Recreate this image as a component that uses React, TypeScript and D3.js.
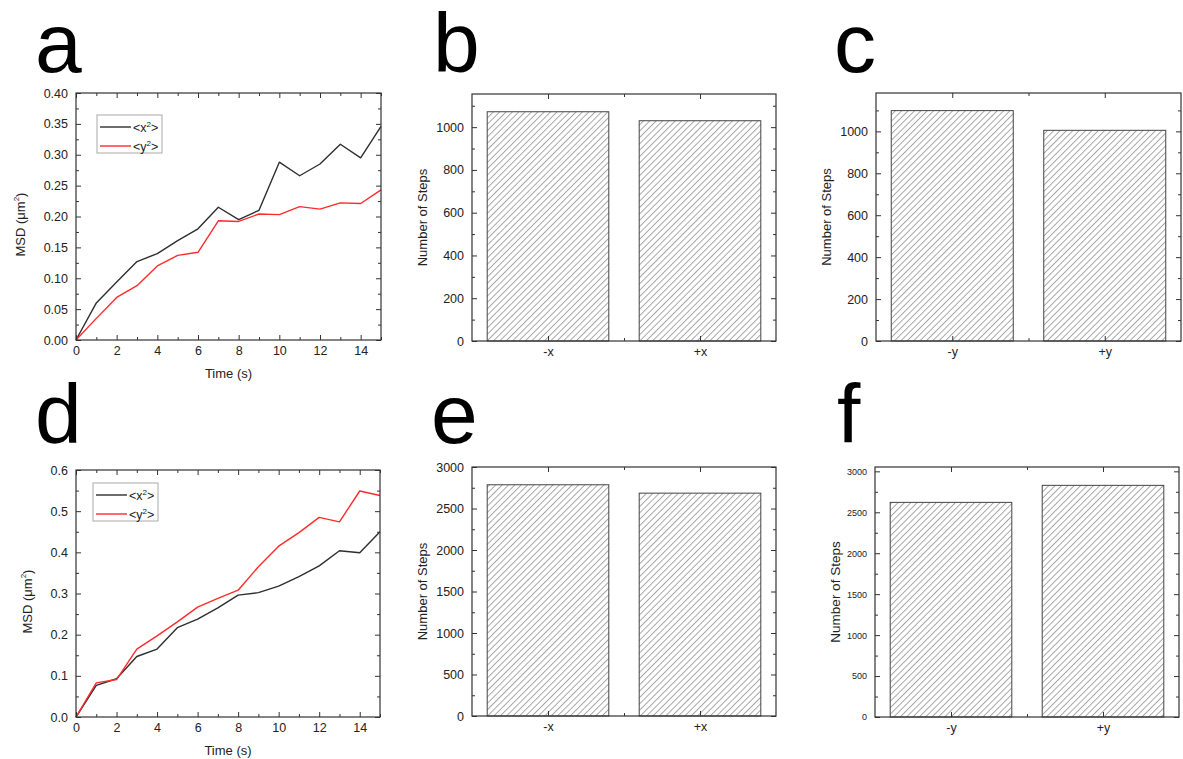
import React, { useEffect, useRef } from 'react';
import * as d3 from 'd3';

const FONT = '"Liberation Sans", Arial, Helvetica, sans-serif';

// time axis for the MSD plots (s)
const times = [0, 1, 2, 3, 4, 5, 6, 7, 8, 9, 10, 11, 12, 13, 14, 15];

// panel a
const msdXa = [0, 0.060, 0.094, 0.127, 0.140, 0.161, 0.180, 0.215, 0.195, 0.210, 0.288, 0.266, 0.285, 0.317, 0.295, 0.346];
const msdYa = [0, 0.035, 0.069, 0.088, 0.120, 0.137, 0.142, 0.193, 0.192, 0.204, 0.203, 0.216, 0.212, 0.222, 0.221, 0.243];

// panel d
const msdXd = [0, 0.077, 0.093, 0.147, 0.165, 0.217, 0.238, 0.265, 0.296, 0.302, 0.318, 0.341, 0.367, 0.404, 0.399, 0.450];
const msdYd = [0, 0.083, 0.091, 0.165, 0.197, 0.231, 0.267, 0.288, 0.308, 0.365, 0.415, 0.448, 0.485, 0.474, 0.549, 0.538];

// step counts
const dirsX = ['-x', '+x'];
const dirsY = ['-y', '+y'];
const stepsB = [1072, 1030];
const stepsC = [1099, 1005];
const stepsE = [2786, 2685];
const stepsF = [2621, 2829];

// tick values
const timeMajor = [0, 2, 4, 6, 8, 10, 12, 14];
const timeMinor = [1, 3, 5, 7, 9, 11, 13, 15];
const msdMajorA = [0, 0.05, 0.1, 0.15, 0.2, 0.25, 0.3, 0.35, 0.4];
const msdMinorA = [0.025, 0.075, 0.125, 0.175, 0.225, 0.275, 0.325, 0.375];
const msdMajorD = [0, 0.1, 0.2, 0.3, 0.4, 0.5, 0.6];
const msdMinorD = [0.05, 0.15, 0.25, 0.35, 0.45, 0.55];
const stepMajor1k = [0, 200, 400, 600, 800, 1000];
const stepMinor1k = [100, 300, 500, 700, 900, 1100];
const stepMajor3k = [0, 500, 1000, 1500, 2000, 2500, 3000];
const stepMinor3k = [250, 750, 1250, 1750, 2250, 2750];

const BLACK = '#2e2e2e';
const RED = '#ff2b2b';
const AXIS = '#333';

function drawFrame(g, x, y, o) {
  const [x0, x1] = x.range();
  const [y0, y1] = y.range();
  const put = (axis, tr, fs) => {
    const a = g.append('g').attr('transform', tr).call(axis);
    a.select('.domain').remove();
    a.selectAll('line').attr('stroke', AXIS).attr('stroke-width', 1);
    a.selectAll('text')
      .style('font-family', FONT)
      .style('font-size', `${fs}px`)
      .attr('fill', '#222');
    if (!fs) a.selectAll('text').remove();
    return a;
  };
  const none = () => '';
  put(d3.axisBottom(x).tickValues(o.xMajor).tickSize(-5).tickPadding(6).tickFormat(o.xFmt), `translate(0,${y0})`, 12.5);
  put(d3.axisTop(x).tickValues(o.xMajor).tickSize(-5).tickFormat(none), `translate(0,${y1})`, 0);
  if (o.xMinor) {
    put(d3.axisBottom(x).tickValues(o.xMinor).tickSize(-3).tickFormat(none), `translate(0,${y0})`, 0);
    put(d3.axisTop(x).tickValues(o.xMinor).tickSize(-3).tickFormat(none), `translate(0,${y1})`, 0);
  }
  put(d3.axisLeft(y).tickValues(o.yMajor).tickSize(-5).tickPadding(8).tickFormat(o.yFmt), `translate(${x0},0)`, o.yFont || 12.5);
  put(d3.axisRight(y).tickValues(o.yMajor).tickSize(-5).tickFormat(none), `translate(${x1},0)`, 0);
  put(d3.axisLeft(y).tickValues(o.yMinor).tickSize(-3).tickFormat(none), `translate(${x0},0)`, 0);
  put(d3.axisRight(y).tickValues(o.yMinor).tickSize(-3).tickFormat(none), `translate(${x1},0)`, 0);
  g.append('rect')
    .attr('x', x0).attr('y', y1)
    .attr('width', x1 - x0).attr('height', y0 - y1)
    .attr('fill', 'none').attr('stroke', AXIS).attr('stroke-width', 1.2);
}

function yTitle(g, cx, cy, text, fs, sup?) {
  const t = g.append('text')
    .attr('transform', `translate(${cx},${cy}) rotate(-90)`)
    .attr('text-anchor', 'middle')
    .attr('dominant-baseline', 'middle')
    .style('font-family', FONT)
    .style('font-size', `${fs}px`)
    .attr('fill', '#222');
  if (sup) {
    t.append('tspan').text(text);
    t.append('tspan').attr('dy', -5).style('font-size', '8px').text(sup);
    t.append('tspan').attr('dy', 5).text(')');
  } else {
    t.text(text);
  }
}

function letter(svg, x, y, ch) {
  svg.append('text')
    .attr('x', x).attr('y', y)
    .style('font-family', FONT)
    .style('font-size', '84px')
    .attr('fill', '#000')
    .text(ch);
}

function msdPanel(svg, p) {
  const g = svg.append('g');
  const x = d3.scaleLinear().domain([0, 15]).range([p.left, p.right]);
  const y = d3.scaleLinear().domain([0, p.yMax]).range([p.bottom, p.top]);
  const line = d3.line<number>().x((_, i) => x(times[i])).y(d => y(d));
  [[p.xs, BLACK], [p.ys, RED]].forEach(([vals, c]) => {
    g.append('path')
      .attr('d', line(vals as number[]))
      .attr('fill', 'none')
      .attr('stroke', c as string)
      .attr('stroke-width', 1.4)
      .attr('stroke-linejoin', 'round');
  });
  drawFrame(g, x, y, {
    xMajor: timeMajor, xMinor: timeMinor, xFmt: d3.format('d'),
    yMajor: p.yMajor, yMinor: p.yMinor, yFmt: p.yFmt
  });
  yTitle(g, p.yTitleX, (p.top + p.bottom) / 2 + 8, 'MSD (\u03bcm', 13, '2');
  g.append('text')
    .attr('x', (p.left + p.right) / 2).attr('y', p.bottom + 38)
    .attr('text-anchor', 'middle')
    .style('font-family', FONT).style('font-size', '13px').attr('fill', '#222')
    .text('Time (s)');

  // legend
  const L = p.legend;
  const lg = g.append('g');
  lg.append('rect').attr('x', L.x).attr('y', L.y).attr('width', L.w).attr('height', L.h)
    .attr('fill', '#fff').attr('stroke', '#aaa').attr('stroke-width', 1);
  [['x', BLACK], ['y', RED]].forEach(([v, c], i) => {
    const ly = L.y + 12 + i * 19;
    lg.append('line').attr('x1', L.x + 3).attr('x2', L.x + 34).attr('y1', ly).attr('y2', ly)
      .attr('stroke', c).attr('stroke-width', 1.4);
    const t = lg.append('text').attr('x', L.x + 36).attr('y', ly + 4.5)
      .style('font-family', FONT).style('font-size', '12.5px').attr('fill', '#222');
    t.append('tspan').text(`<${v}`);
    t.append('tspan').attr('dy', -5).style('font-size', '8px').text('2');
    t.append('tspan').attr('dy', 5).text('>');
  });
}

function barPanel(svg, p) {
  const g = svg.append('g');
  const band = d3.scaleBand().domain(p.cats).range([p.left, p.right]).paddingInner(0.2).paddingOuter(0.1);
  const pos = d3.scaleLinear().domain([0.5, 2.5]).range([p.left, p.right]);
  const y = d3.scaleLinear().domain([0, p.yMax]).range([p.bottom, p.top]);
  g.selectAll('rect.bar')
    .data(p.values)
    .enter()
    .append('rect')
    .attr('class', 'bar')
    .attr('x', (_, i) => band(p.cats[i]))
    .attr('y', d => y(d))
    .attr('width', band.bandwidth())
    .attr('height', d => y(0) - y(d))
    .attr('fill', 'url(#hatch)')
    .attr('stroke', '#444')
    .attr('stroke-width', 1);
  drawFrame(g, pos, y, {
    xMajor: [1, 2], xMinor: [1.5], xFmt: (d) => p.cats[d - 1],
    yMajor: p.yMajor, yMinor: p.yMinor, yFmt: d3.format('d'),
    yFont: p.yFont
  });
  yTitle(g, p.yTitleX, (p.top + p.bottom) / 2, 'Number of Steps', p.titleFont || 13);
}

export default function App() {
  const svgRef = useRef(null);

  useEffect(() => {
    const svg = d3.select(svgRef.current);
    svg.selectAll('*').remove();

    const pat = svg.append('defs').append('pattern')
      .attr('id', 'hatch')
      .attr('patternUnits', 'userSpaceOnUse')
      .attr('width', 4.5).attr('height', 10)
      .attr('patternTransform', 'rotate(45)');
    pat.append('rect').attr('width', 4.5).attr('height', 10).attr('fill', '#fff');
    pat.append('line').attr('x1', 0.5).attr('x2', 0.5).attr('y1', 0).attr('y2', 10)
      .attr('stroke', '#999').attr('stroke-width', 0.9);

    letter(svg, 35, 72, 'a');
    letter(svg, 433, 72, 'b');
    letter(svg, 834, 72, 'c');
    letter(svg, 35, 443, 'd');
    letter(svg, 431, 443, 'e');
    letter(svg, 837, 443, 'f');

    msdPanel(svg, {
      left: 76, right: 381, top: 93, bottom: 340,
      yMax: 0.4, yMajor: msdMajorA, yMinor: msdMinorA, yFmt: d3.format('.2f'),
      xs: msdXa, ys: msdYa, yTitleX: 22,
      legend: { x: 97, y: 115, w: 65, h: 38 }
    });
    msdPanel(svg, {
      left: 76, right: 380, top: 470, bottom: 717,
      yMax: 0.6, yMajor: msdMajorD, yMinor: msdMinorD, yFmt: d3.format('.1f'),
      xs: msdXd, ys: msdYd, yTitleX: 29,
      legend: { x: 93, y: 483, w: 65, h: 38 }
    });

    barPanel(svg, {
      left: 472, right: 776, top: 94, bottom: 341, yMax: 1155,
      cats: dirsX, values: stepsB, yMajor: stepMajor1k, yMinor: stepMinor1k, yTitleX: 424
    });
    barPanel(svg, {
      left: 876, right: 1181, top: 93, bottom: 341, yMax: 1183,
      cats: dirsY, values: stepsC, yMajor: stepMajor1k, yMinor: stepMinor1k, yTitleX: 828
    });
    barPanel(svg, {
      left: 472, right: 776, top: 467, bottom: 716, yMax: 3000,
      cats: dirsX, values: stepsE, yMajor: stepMajor3k, yMinor: stepMinor3k, yTitleX: 424
    });
    barPanel(svg, {
      left: 875, right: 1179, top: 467, bottom: 717, yMax: 3053,
      cats: dirsY, values: stepsF, yMajor: stepMajor3k, yMinor: stepMinor3k, yTitleX: 836,
      yFont: 9, titleFont: 13.5
    });
  }, []);

  return (
    <div style={{ position: 'absolute', left: 0, top: 0, width: 1183, height: 759, background: '#fff' }}>
      <svg ref={svgRef} width={1183} height={759} style={{ display: 'block' }} />
    </div>
  );
}
